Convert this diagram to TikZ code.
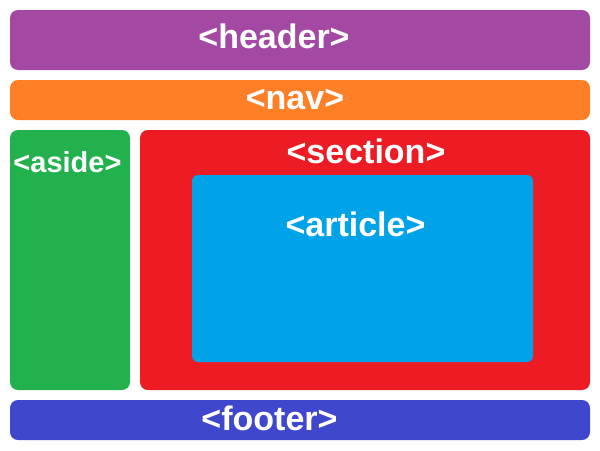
\documentclass[tikz,border=0pt]{standalone}
\usepackage{fontspec}
\setmainfont{Liberation Sans}
\usepackage{xcolor}
\usepackage{tikz}
\definecolor{headercol}{HTML}{A349A4}
\definecolor{navcol}{HTML}{FF7F27}
\definecolor{asidecol}{HTML}{22B14C}
\definecolor{sectioncol}{HTML}{ED1C24}
\definecolor{articlecol}{HTML}{00A2E8}
\definecolor{footercol}{HTML}{3F48CC}
\begin{document}
\begin{tikzpicture}[x=0.75pt,y=-0.75pt,
    panel/.style={rectangle,rounded corners=6pt,inner sep=0pt,draw=none},
    tag/.style={text=white,inner sep=0pt,anchor=base,font=\bfseries\fontsize{25.5}{30}\selectfont}]
    \useasboundingbox[fill=white] (0,0) rectangle (600,450);
    % boxes
    \node[panel,fill=headercol,minimum width=435pt,minimum height=45pt] (header) at (300,40) {};
    \node[panel,fill=navcol,minimum width=435pt,minimum height=30pt] (nav) at (300,100) {};
    \node[panel,fill=asidecol,minimum width=90pt,minimum height=195pt] (aside) at (70,260) {};
    \node[panel,fill=sectioncol,minimum width=337.5pt,minimum height=195pt] (section) at (365,260) {};
    \node[panel,fill=articlecol,rounded corners=4.5pt,minimum width=255.75pt,minimum height=140.25pt] (article) at (362.5,268.5) {};
    \node[panel,fill=footercol,minimum width=435pt,minimum height=30pt] (footer) at (300,420) {};
    % labels
    \node[tag] (header_t) at (274,48.3) {<header>};
    \node[tag] (nav_t) at (295,109.3) {<nav>};
    \node[tag,font=\bfseries\fontsize{21.75}{26}\selectfont] (aside_t) at (67.5,172) {<aside>};
    \node[tag] (section_t) at (366,163) {<section>};
    \node[tag] (article_t) at (355.5,236.7) {<article>};
    \node[tag] (footer_t) at (269.5,430.7) {<footer>};
\end{tikzpicture}
\end{document}
